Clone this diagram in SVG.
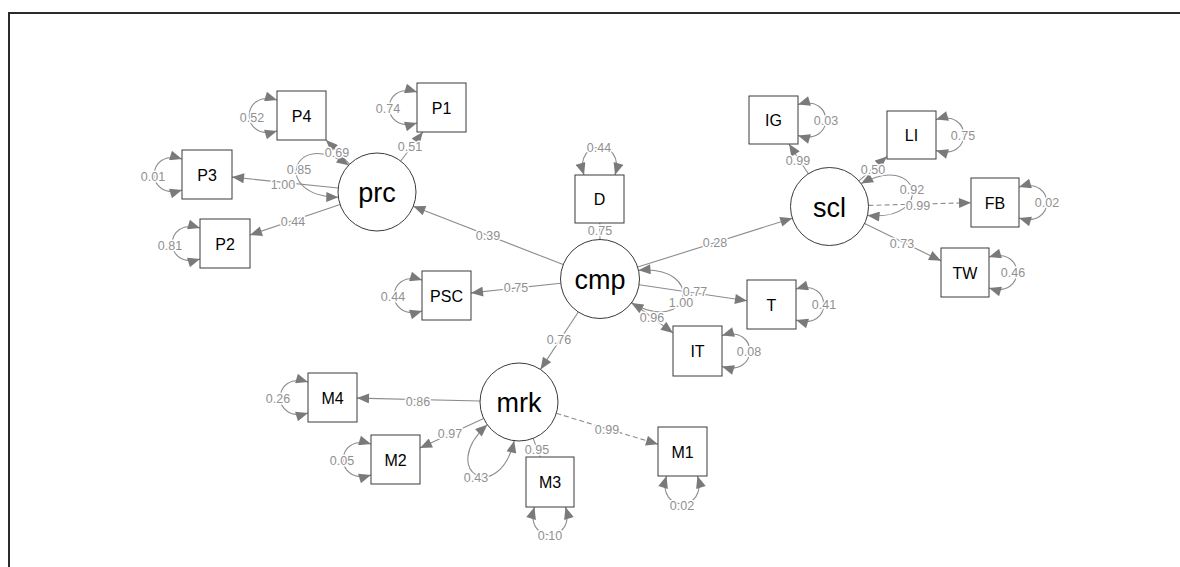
<svg xmlns="http://www.w3.org/2000/svg" width="1180" height="567" viewBox="0 0 1180 567">
<style>
.bx{fill:#fff;stroke:#3a3a3a;stroke-width:1}
.lv{fill:#fff;stroke:#3a3a3a;stroke-width:1}
.nt{font-family:"Liberation Sans",Arial,sans-serif;font-size:16px;fill:#000;text-anchor:middle}
.lt{font-family:"Liberation Sans",Arial,sans-serif;font-size:27px;fill:#000;text-anchor:middle}
.e{fill:none;stroke:#8c8c8c;stroke-width:1.1}
.a{marker-end:url(#ah)}
.lp{marker-start:url(#ah);marker-end:url(#ah)}
.d{stroke-dasharray:5,3}
.el{font-family:"Liberation Sans",Arial,sans-serif;font-size:12.5px;fill:#909090;text-anchor:middle;stroke:#fff;stroke-width:3;paint-order:stroke;stroke-linejoin:round}
</style>
<defs>
<marker id="ah" viewBox="0 0 12 10" refX="12" refY="5" markerWidth="13" markerHeight="10" markerUnits="userSpaceOnUse" orient="auto-start-reverse"><path d="M0,0 L12,5 L0,10 z" fill="#7a7a7a"/></marker>
</defs>
<rect width="1180" height="567" fill="#fff"/>
<path d="M9,567 V13 H1180" fill="none" stroke="#2b2b2b" stroke-width="2"/>
<g id="connectors">
<path class="e a" d="M563.2,264.6 L413.3,206.2"/>
<path class="e a" d="M637.7,267.1 L792.3,218.2"/>
<path class="e a" d="M560.7,283.2 L471,292.9"/>
<path class="e a" d="M578.3,312 L540.5,369.4"/>
<path class="e a" d="M639.1,284.8 L747,300.8"/>
<path class="e a" d="M631.8,302.5 L673,332.9"/>
<path class="e" d="M600,239.5 L599.8,223"/>
<path class="e a" d="M349.6,164.2 L326,140"/>
<path class="e a" d="M400.7,161 L422.8,132"/>
<path class="e a" d="M338.2,188 L232,177.1"/>
<path class="e a" d="M340.1,204.5 L250,235"/>
<path class="e a" d="M808.3,173.8 L789,144"/>
<path class="e a" d="M858.9,180.9 L887,156.4"/>
<path class="e a d" d="M868.5,205.4 L971,202.7"/>
<path class="e a" d="M864.6,223.6 L941,260.8"/>
<path class="e a" d="M480,401 L357,398.1"/>
<path class="e a" d="M483.6,418.5 L420,448.1"/>
<path class="e" d="M533.1,438.4 L540.3,457"/>
<path class="e a d" d="M556.3,413.3 L658,444.2"/>
<path class="e lp" d="M277,100 C240,89 240,142 277,131"/>
<path class="e lp" d="M417,92 C380,81 380,134 417,123"/>
<path class="e lp" d="M182,159 C145,148 145,201 182,190"/>
<path class="e lp" d="M200,228 C163,217 163,270 200,259"/>
<path class="e lp" d="M422,280 C385,269 385,322 422,311"/>
<path class="e lp" d="M308,382 C271,371 271,424 308,413"/>
<path class="e lp" d="M371,444 C334,433 334,486 371,475"/>
<path class="e lp" d="M584,175 C573,138 626,138 615,175"/>
<path class="e lp" d="M534.5,507 C523.5,544 576.5,544 565.5,507"/>
<path class="e lp" d="M666.5,476 C655.5,513 708.5,513 697.5,476"/>
<path class="e lp" d="M798,104.5 C835,93.5 835,146.5 798,135.5"/>
<path class="e lp" d="M936,119.5 C973,108.5 973,161.5 936,150.5"/>
<path class="e lp" d="M1019,187 C1056,176 1056,229 1019,218"/>
<path class="e lp" d="M989,257 C1026,246 1026,299 989,288"/>
<path class="e lp" d="M796,289 C833,278 833,331 796,320"/>
<path class="e lp" d="M722,335.5 C759,324.5 759,377.5 722,366.5"/>
<path class="e lp" d="M348.6,165.3 C292.8,126.3 270.3,196.2 338.3,197.2"/>
<path class="e lp" d="M638.5,270.3 C706.2,264.7 690.7,336.4 631.4,303"/>
<path class="e lp" d="M861.1,183.6 C920.9,151 935.1,222 867.5,215.4"/>
<path class="e lp" d="M487.3,424.7 C437,470.5 498.3,506.9 514.2,440.7"/>
<g id="edge-labels">
<text class="el" x="252" y="122">0.52</text>
<text class="el" x="388" y="113">0.74</text>
<text class="el" x="337" y="157">0.69</text>
<text class="el" x="410" y="151">0.51</text>
<text class="el" x="299" y="174">0.85</text>
<text class="el" x="283" y="189">1.00</text>
<text class="el" x="153" y="181">0.01</text>
<text class="el" x="293" y="226">0.44</text>
<text class="el" x="170" y="250">0.81</text>
<text class="el" x="488" y="240">0.39</text>
<text class="el" x="599" y="152">0.44</text>
<text class="el" x="600" y="235">0.75</text>
<text class="el" x="715" y="247">0.28</text>
<text class="el" x="826" y="125">0.03</text>
<text class="el" x="963" y="140">0.75</text>
<text class="el" x="798" y="165">0.99</text>
<text class="el" x="873" y="174">0.50</text>
<text class="el" x="912" y="194">0.92</text>
<text class="el" x="918" y="210">0.99</text>
<text class="el" x="1047" y="207">0.02</text>
<text class="el" x="902" y="248">0.73</text>
<text class="el" x="1013" y="277">0.46</text>
<text class="el" x="824" y="309">0.41</text>
<text class="el" x="393" y="301">0.44</text>
<text class="el" x="516" y="292">0.75</text>
<text class="el" x="559" y="344">0.76</text>
<text class="el" x="652" y="322">0.96</text>
<text class="el" x="695" y="296">0.77</text>
<text class="el" x="681" y="307">1.00</text>
<text class="el" x="749" y="356">0.08</text>
<text class="el" x="278" y="403">0.26</text>
<text class="el" x="418" y="406">0.86</text>
<text class="el" x="450" y="438">0.97</text>
<text class="el" x="342" y="465">0.05</text>
<text class="el" x="537" y="454">0.95</text>
<text class="el" x="607" y="434">0.99</text>
<text class="el" x="476" y="482">0.43</text>
<text class="el" x="550" y="540">0.10</text>
<text class="el" x="682" y="510">0.02</text>
</g>
</g>
<g id="P4"><rect class="bx" x="277" y="91" width="49" height="49"/><text class="nt" x="301.5" y="121.5">P4</text></g>
<g id="P1"><rect class="bx" x="417" y="83" width="49" height="49"/><text class="nt" x="441.5" y="113.5">P1</text></g>
<g id="P3"><rect class="bx" x="182" y="150" width="50" height="49"/><text class="nt" x="207" y="180.5">P3</text></g>
<g id="P2"><rect class="bx" x="200" y="219" width="50" height="49"/><text class="nt" x="225" y="249.5">P2</text></g>
<g id="D"><rect class="bx" x="575" y="175" width="49" height="48"/><text class="nt" x="599.5" y="205">D</text></g>
<g id="PSC"><rect class="bx" x="422" y="271" width="49" height="49"/><text class="nt" x="446.5" y="301.5">PSC</text></g>
<g id="IG"><rect class="bx" x="749" y="96" width="49" height="48"/><text class="nt" x="773.5" y="126">IG</text></g>
<g id="LI"><rect class="bx" x="887" y="111" width="49" height="48"/><text class="nt" x="911.5" y="141">LI</text></g>
<g id="FB"><rect class="bx" x="971" y="178" width="48" height="49"/><text class="nt" x="995" y="208.5">FB</text></g>
<g id="TW"><rect class="bx" x="941" y="248" width="48" height="49"/><text class="nt" x="965" y="278.5">TW</text></g>
<g id="T"><rect class="bx" x="747" y="280" width="49" height="49"/><text class="nt" x="771.5" y="310.5">T</text></g>
<g id="IT"><rect class="bx" x="673" y="326" width="49" height="50"/><text class="nt" x="697.5" y="357">IT</text></g>
<g id="M4"><rect class="bx" x="308" y="373" width="49" height="49"/><text class="nt" x="332.5" y="403.5">M4</text></g>
<g id="M2"><rect class="bx" x="371" y="435" width="49" height="49"/><text class="nt" x="395.5" y="465.5">M2</text></g>
<g id="M3"><rect class="bx" x="526" y="457" width="48" height="50"/><text class="nt" x="550" y="488">M3</text></g>
<g id="M1"><rect class="bx" x="658" y="427" width="49" height="49"/><text class="nt" x="682.5" y="457.5">M1</text></g>
<g id="prc"><circle class="lv" cx="377" cy="192" r="39"/><text class="lt" x="377" y="202">prc</text></g>
<g id="cmp"><circle class="lv" cx="600" cy="279" r="39.5"/><text class="lt" x="600" y="289">cmp</text></g>
<g id="scl"><circle class="lv" cx="829.5" cy="206.5" r="39"/><text class="lt" x="829.5" y="216.5">scl</text></g>
<g id="mrk"><circle class="lv" cx="519" cy="402" r="39"/><text class="lt" x="519" y="412">mrk</text></g>
</svg>
